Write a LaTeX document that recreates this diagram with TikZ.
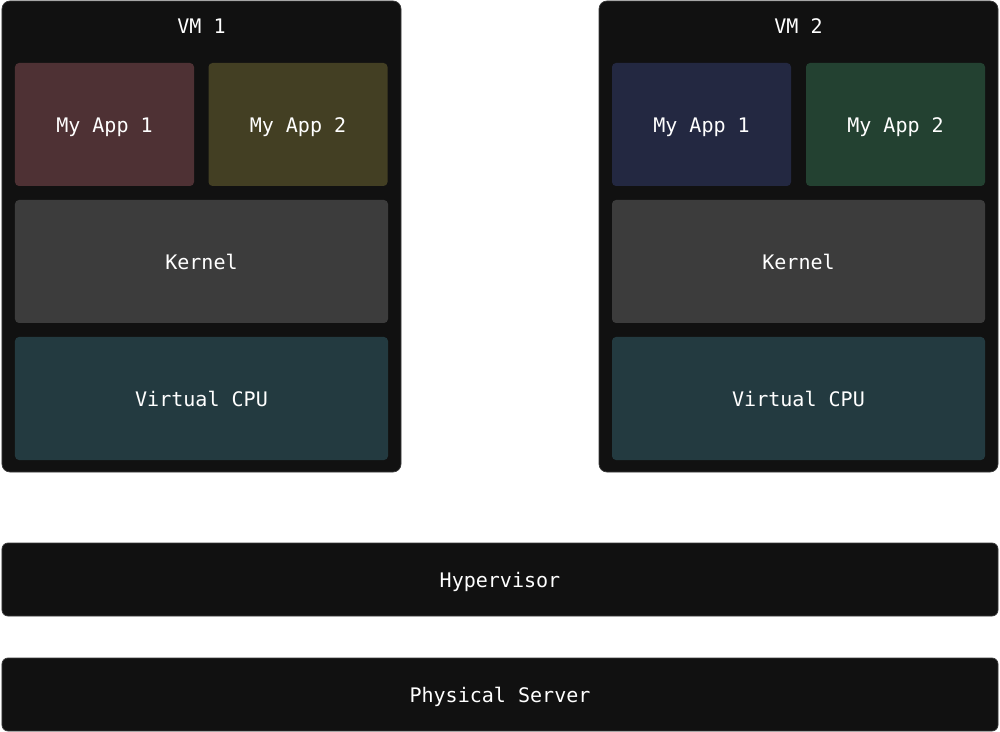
\documentclass[tikz,border=0pt]{standalone}
\usepackage{fontspec}
\setmonofont{DejaVu Sans Mono}
\usepackage{tikz}
\definecolor{boxbg}{HTML}{111111}
\definecolor{boxedge}{HTML}{3A3A3A}
\definecolor{appred}{HTML}{4E3134}
\definecolor{appolive}{HTML}{433F23}
\definecolor{appblue}{HTML}{232841}
\definecolor{appgreen}{HTML}{234131}
\definecolor{kernelgray}{HTML}{3C3C3C}
\definecolor{cputeal}{HTML}{233A40}
\tikzstyle{vm}=[shape=rectangle,
                rounded corners=0.16cm,
                fill=boxbg,
                draw=boxedge,
                line width=0.4pt,
                minimum width=7.98cm,
                minimum height=9.42cm]
\tikzstyle{layer}=[shape=rectangle,
                rounded corners=0.12cm,
                fill=boxbg,
                draw=boxedge,
                line width=0.4pt,
                minimum width=19.92cm,
                minimum height=1.46cm,
                text=white]
\tikzstyle{app}=[shape=rectangle,
                rounded corners=0.08cm,
                minimum width=3.58cm,
                minimum height=2.46cm,
                text=white]
\tikzstyle{wide}=[shape=rectangle,
                rounded corners=0.08cm,
                minimum width=7.46cm,
                minimum height=2.46cm,
                text=white]
\tikzstyle{title}=[text=white]

\begin{document}
\begin{tikzpicture}[font=\ttfamily\fontsize{11.4}{13}\selectfont,
                    text height=0.86em,text depth=0pt]
\useasboundingbox (0,0) rectangle (20,-14.64);

% virtual machines
\node[vm] (vm1) at (4.03,-4.73)  {};
\node[vm] (vm2) at (15.97,-4.73) {};
\node[title] (t1) at (4.03,-0.52)  {VM 1};
\node[title] (t2) at (15.97,-0.52) {VM 2};

% applications
\node[app,fill=appred]   (a11) at (2.09,-2.49)  {My App 1};
\node[app,fill=appolive] (a12) at (5.96,-2.49)  {My App 2};
\node[app,fill=appblue]  (a21) at (14.03,-2.49) {My App 1};
\node[app,fill=appgreen] (a22) at (17.91,-2.49) {My App 2};

% kernels and cpus
\node[wide,fill=kernelgray] (k1) at (4.03,-5.23)  {Kernel};
\node[wide,fill=kernelgray] (k2) at (15.97,-5.23) {Kernel};
\node[wide,fill=cputeal]    (c1) at (4.03,-7.97)  {Virtual CPU};
\node[wide,fill=cputeal]    (c2) at (15.97,-7.97) {Virtual CPU};

% host layers
\node[layer] (hv) at (10,-11.59) {Hypervisor};
\node[layer] (ps) at (10,-13.89) {Physical Server};
\end{tikzpicture}
\end{document}
